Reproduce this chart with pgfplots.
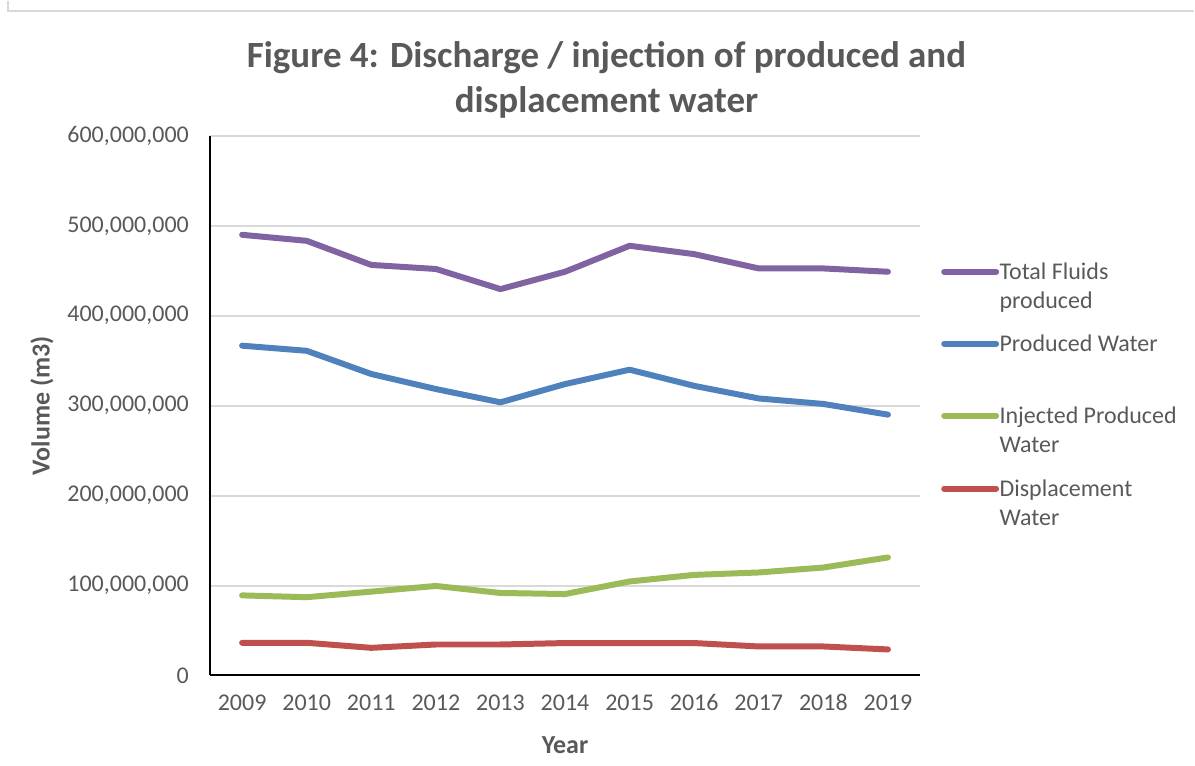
\documentclass[border=0pt]{standalone}
\usepackage{pgfplots}
\pgfplotsset{compat=1.18}
\usepackage{fontspec}
\setmainfont{Carlito}

\definecolor{txt}{HTML}{595959}
\definecolor{gridc}{HTML}{D9D9D9}
\definecolor{cTotal}{HTML}{8064A2}
\definecolor{cProd}{HTML}{4F81BD}
\definecolor{cInj}{HTML}{9BBB59}
\definecolor{cDisp}{HTML}{C0504D}

% Volumes in m3, years 2009--2019 plotted at positions 0..10
\pgfplotstableread{
x total     produced  injected  displacement
0 490000000 366700000  89000000 36300000
1 483300000 361000000  87000000 36300000
2 456500000 335200000  93200000 30700000
3 452000000 318500000  99500000 34400000
4 429600000 303700000  91700000 34400000
5 448900000 324000000  90500000 36000000
6 477800000 340000000 104500000 36000000
7 468500000 322000000 111800000 36000000
8 452600000 308000000 114500000 32200000
9 452600000 301900000 120000000 32200000
10 448900000 290000000 131200000 28900000
}\datatable

\begin{document}
\begin{tikzpicture}[x=0.5pt,y=0.5pt]
% page extent and frame
\path (0,0) rectangle (1195,765);
\draw[gridc, line width=1pt] (8,765) -- (8,754.5) -- (1195,754.5);

\begin{axis}[
  at={(105pt,45pt)}, anchor=south west,
  scale only axis, width=355.5pt, height=270pt,
  xmin=-0.5, xmax=10.5, ymin=0, ymax=600000000,
  xtick={0,...,10},
  xticklabels={2009,2010,2011,2012,2013,2014,2015,2016,2017,2018,2019},
  ytick={0,100000000,200000000,300000000,400000000,500000000,600000000},
  scaled y ticks=false,
  /pgf/number format/fixed,
  /pgf/number format/precision=0,
  /pgf/number format/1000 sep={,},
  /pgf/number format/assume math mode=true,
  tick label style={font=\fontsize{12}{14}\selectfont, text=txt},
  yticklabel style={xshift=-7pt},
  xticklabel style={yshift=-6pt},
  major tick length=0pt,
  ymajorgrids, grid style={gridc, line width=1pt},
  axis x line*=bottom, axis y line*=left,
  axis line style={black, line width=1pt, -},
  separate axis lines,
  xlabel={Year}, ylabel={Volume (m3)},
  every axis x label/.style={at={(axis description cs:0.5,-0.1296)}, anchor=center, font=\bfseries\fontsize{13}{15}\selectfont, text=txt},
  every axis y label/.style={at={(axis description cs:-0.2363,0.5)}, rotate=90, anchor=center, font=\bfseries\fontsize{13}{15}\selectfont, text=txt},
  title={Figure 4: Discharge / injection of produced and\\displacement water},
  title style={at={(axis description cs:0.5584,1.0824)}, anchor=center, align=center, font=\bfseries\fontsize{18.5}{22.5}\selectfont, text=txt},
  every axis plot/.append style={line width=3pt, line join=round, line cap=round, mark=none},
  clip=false,
]
\addplot[cTotal] table[x=x, y=total] {\datatable};
\addplot[cProd] table[x=x, y=produced] {\datatable};
\addplot[cInj] table[x=x, y=injected] {\datatable};
\addplot[cDisp] table[x=x, y=displacement] {\datatable};
\end{axis}

% legend
\begin{scope}[line width=3pt, line cap=round]
\draw[cTotal] (945,494) -- (997,494);
\draw[cProd]  (945,422) -- (997,422);
\draw[cInj]   (945,350) -- (997,350);
\draw[cDisp]  (945,277) -- (997,277);
\end{scope}
\begin{scope}[every node/.style={anchor=base west, inner sep=0pt, text=txt, font=\fontsize{12}{14.5}\selectfont}]
\node at (1000,486) {\begin{tabular}[t]{@{}l@{}}Total Fluids\\produced\end{tabular}};
\node at (1000,414) {\begin{tabular}[t]{@{}l@{}}Produced Water\end{tabular}};
\node at (1000,342) {\begin{tabular}[t]{@{}l@{}}Injected Produced\\Water\end{tabular}};
\node at (1000,269) {\begin{tabular}[t]{@{}l@{}}Displacement\\Water\end{tabular}};
\end{scope}
\end{tikzpicture}
\end{document}
